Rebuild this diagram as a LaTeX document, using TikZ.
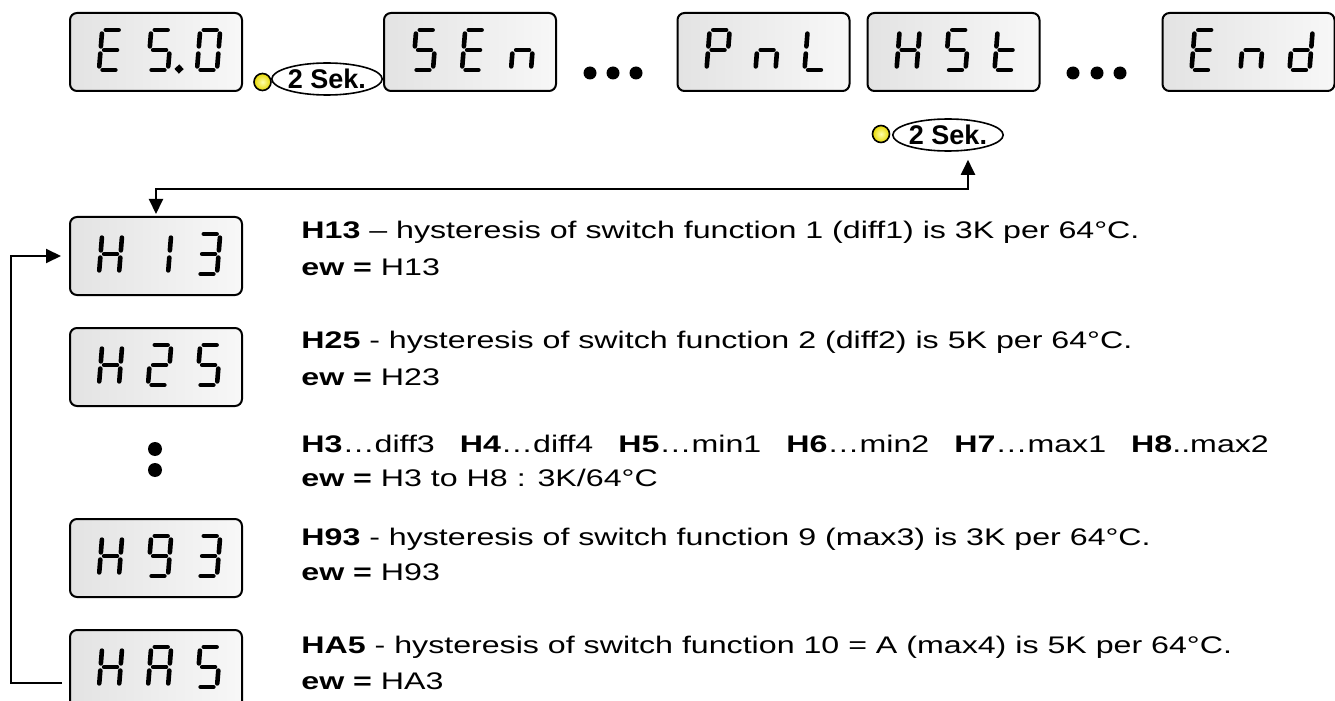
\documentclass[tikz,border=0pt]{standalone}
\usepackage{fontspec}
\setmainfont{Liberation Sans}[FakeStretch=1.34]
\newfontfamily\sekfont{Liberation Sans}
\usetikzlibrary{arrows.meta,shapes.geometric}

\definecolor{ledin}{RGB}{255,255,170}
\definecolor{ledout}{RGB}{230,215,0}

\tikzset{
  lcd/.style={draw,line width=1pt,rounded corners=3.5pt,minimum width=86pt,minimum height=39pt,
    left color=black!11,right color=black!3},
  segline/.style={line width=2.3pt,line cap=round},
  led/.style={circle,draw,line width=.8pt,minimum size=8.5pt,inner sep=0pt,
    inner color=ledin,outer color=ledout},
  sek/.style={ellipse,draw,line width=.8pt,fill=white,inner sep=0pt,minimum width=42.5pt,
    minimum height=16pt,font=\sekfont\fontsize{13.5}{15}\selectfont\bfseries},
  txt/.style={anchor=base west,inner sep=0pt,font=\fontsize{12}{14}\selectfont},
  link/.style={line width=1pt,-{Triangle[length=7.5pt,width=7pt]}},
  seg/a/.style={insert path={(3.6,40)--(16.4,40)}},
  seg/b/.style={insert path={(20,36.4)--(20,23.6)}},
  seg/c/.style={insert path={(20,16.4)--(20,3.6)}},
  seg/d/.style={insert path={(3.6,0)--(16.4,0)}},
  seg/e/.style={insert path={(0,3.6)--(0,16.4)}},
  seg/f/.style={insert path={(0,23.6)--(0,36.4)}},
  seg/g/.style={insert path={(3.6,20)--(16.4,20)}},
  seg/p/.style={insert path={(31,1) circle[radius=1.4]}}
}

\def\sgE{a,d,e,f,g}
\def\sgS{a,c,d,f,g}
\def\sgSp{a,c,d,f,g,p}
\def\sgZero{a,b,c,d,e,f}
\def\sgn{c,e,g}
\def\sgP{a,b,e,f,g}
\def\sgL{d,e,f}
\def\sgH{b,c,e,f,g}
\def\sgt{d,e,f,g}
\def\sgd{b,c,d,e,g}
\def\sgOne{b,c}
\def\sgTwo{a,b,d,e,g}
\def\sgThree{a,b,c,d,g}
\def\sgNine{a,b,c,d,f,g}
\def\sgA{a,b,c,e,f,g}

\newcommand\lcdchar[3]{%
  \begin{scope}[shift={(#1.center)},xshift=#2*0.5pt,yshift=-9pt,x=0.5pt,y=0.5pt,xslant=0.08]
    \foreach \s in #3 {\draw[segline,seg/\s];}
  \end{scope}}
\newcommand\lcd[5]{%
  \node[lcd] (#1) at #2 {};
  \lcdchar{#1}{-57}{#3}\lcdchar{#1}{-8}{#4}\lcdchar{#1}{41}{#5}}

\begin{document}
\begin{tikzpicture}[x=0.5pt,y=-0.5pt]
\useasboundingbox (0,0) rectangle (1335,701);
    \lcd{es}{(156,52)}{\sgE}{\sgSp}{\sgZero}
    \lcd{sen}{(470,52)}{\sgS}{\sgE}{\sgn}
    \lcd{pnl}{(763.5,52)}{\sgP}{\sgn}{\sgL}
    \lcd{hst}{(953.5,52)}{\sgH}{\sgS}{\sgt}
    \lcd{fin}{(1248.5,52)}{\sgE}{\sgn}{\sgd}
    \lcd{h13}{(156,256)}{\sgH}{\sgOne}{\sgThree}
    \lcd{h25}{(156,367)}{\sgH}{\sgTwo}{\sgS}
    \lcd{h93}{(156,558)}{\sgH}{\sgNine}{\sgThree}
    \lcd{ha5}{(156,669)}{\sgH}{\sgA}{\sgS}
    \fill (590,73) circle (6.5) (613,73) circle (6.5) (636,73) circle (6.5);
    \fill (1073,73) circle (6.5) (1097,73) circle (6.5) (1120,73) circle (6.5);
    \fill (155,449) circle (7) (155,470) circle (7);
    \node[led] (led1) at (262.5,82) {};
    \node[sek] (sek1) at (327,79) {2 Sek.};
    \node[led] (led2) at (881,134) {};
    \node[sek] (sek2) at (948,135) {2 Sek.};
    \draw[link,{Triangle[length=7.5pt,width=7pt]}-{Triangle[length=7.5pt,width=7pt]},shorten >=1pt]
      ([xshift=10pt,yshift=-4pt]sek2.south) -- ++(0,29) -| (h13.north);
    \draw[link,shorten >=4pt] ([xshift=-3.5pt,yshift=-7pt]ha5.west) -- ++(-51,0) |- (h13.west);
    \node[txt] (t13) at (301,239) {\textbf{H13} – hysteresis of switch function 1 (diff1) is 3K per 64°C.};
    \node[txt] (e13) at (301,276) {\textbf{ew =} H13};
    \node[txt] (t25) at (301,348) {\textbf{H25} - hysteresis of switch function 2 (diff2) is 5K per 64°C.};
    \node[txt] (e25) at (301,385) {\textbf{ew =} H23};
    \node[txt] (t38) at (301,452) {\textbf{H3}…diff3\hskip12.5pt\textbf{H4}…diff4\hskip12.5pt\textbf{H5}…min1\hskip12.5pt\textbf{H6}…min2\hskip12.5pt\textbf{H7}…max1\hskip12.5pt\textbf{H8}..max2};
    \node[txt] (e38) at (301,486) {\textbf{ew =} H3 to H8 : 3K/64°C};
    \node[txt] (t93) at (301,545) {\textbf{H93} - hysteresis of switch function 9 (max3) is 3K per 64°C.};
    \node[txt] (e93) at (301,580) {\textbf{ew =} H93};
    \node[txt] (ta5) at (301,653) {\textbf{HA5} - hysteresis of switch function 10 = A (max4) is 5K per 64°C.};
    \node[txt] (ea5) at (301,689) {\textbf{ew =} HA3};
\end{tikzpicture}
\end{document}
